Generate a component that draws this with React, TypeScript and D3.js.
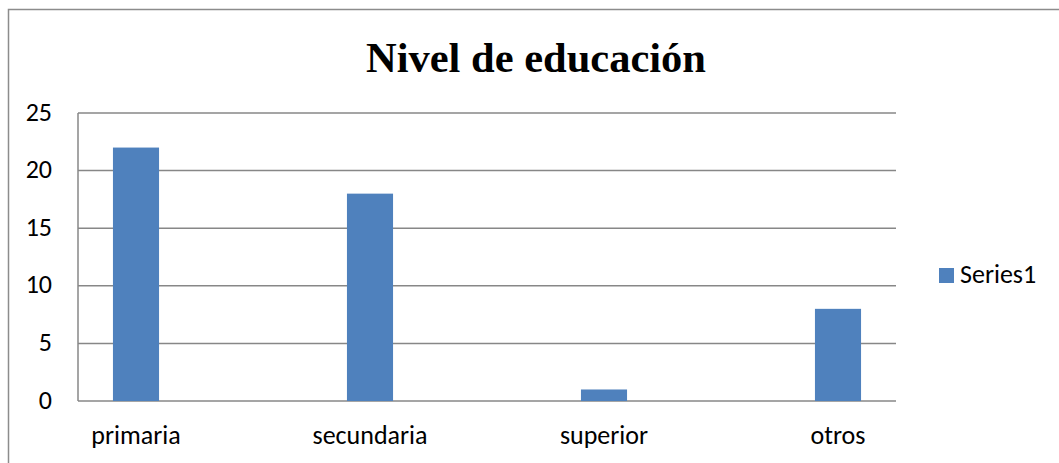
import React from "react";
import * as d3 from "d3";

const categories = ["primaria", "secundaria", "superior", "otros"];
const series1 = [22, 18, 1, 8];
const yTicks = [0, 5, 10, 15, 20, 25];
const seriesName = "Series1";
const title = "Nivel de educación";

export default function App() {
  const width = 1059;
  const height = 463;

  const plot = { left: 78, right: 896, top: 113, bottom: 401 };

  const y = d3.scaleLinear().domain([0, 25]).range([plot.bottom, plot.top]);
  // category bands are wider than the visible gridlines (Excel-like layout)
  const x = d3
    .scaleBand<string>()
    .domain(categories)
    .range([19, 955])
    .paddingInner(0.803)
    .paddingOuter(0.4015);

  const labelFont = "Carlito, Calibri, Lato, 'Open Sans', sans-serif";
  const labelSize = 26;
  const barColor = "#4F81BD";
  const gridColor = "#878787";

  return (
    <div style={{ position: "fixed", left: 0, top: 0 }}>
      <svg width={width} height={height} style={{ display: "block", background: "#fff" }}>
        {/* outer chart border (cropped on right and bottom) */}
        <rect x={8.5} y={9.5} width={1200} height={600} fill="none" stroke="#8c8c8c" strokeWidth={1.5} />

        <text
          x={536}
          y={72}
          textAnchor="middle"
          fontFamily="'Liberation Serif', 'Times New Roman', serif"
          fontWeight="bold"
          fontSize={42.5}
          fill="#000"
        >
          {title}
        </text>

        {/* gridlines */}
        {yTicks.map((t) => (
          <line
            key={t}
            x1={plot.left}
            x2={plot.right}
            y1={y(t)}
            y2={y(t)}
            stroke={gridColor}
            strokeWidth={1.5}
          />
        ))}
        <line x1={plot.left} x2={plot.left} y1={plot.top} y2={plot.bottom} stroke={gridColor} strokeWidth={1.5} />

        {/* y tick labels */}
        {yTicks.map((t) => (
          <text key={t} x={52} y={y(t) + 7.5} textAnchor="end" fontFamily={labelFont} fontSize={labelSize} fill="#000">
            {t}
          </text>
        ))}

        {/* bars */}
        {categories.map((c, i) => (
          <rect
            key={c}
            x={x(c)!}
            y={y(series1[i])}
            width={x.bandwidth()}
            height={y(0) - y(series1[i])}
            fill={barColor}
          />
        ))}

        {/* x labels */}
        {categories.map((c) => (
          <text
            key={c}
            x={x(c)! + x.bandwidth() / 2}
            y={444}
            textAnchor="middle"
            fontFamily={labelFont}
            fontSize={labelSize}
            fill="#000"
          >
            {c}
          </text>
        ))}

        {/* legend */}
        <rect x={939} y={268} width={15} height={15} fill={barColor} />
        <text x={960} y={283} fontFamily={labelFont} fontSize={labelSize} fill="#000">
          {seriesName}
        </text>
      </svg>
    </div>
  );
}
